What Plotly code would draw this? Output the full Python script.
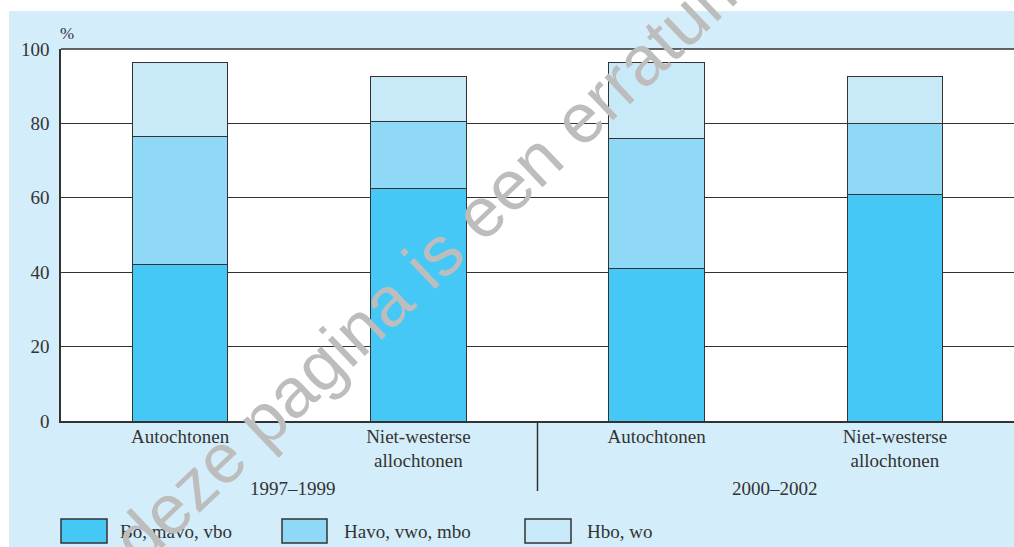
import plotly.graph_objects as go

categories = ["Autochtonen", "Niet-westerse<br>allochtonen", "Autochtonen", "Niet-westerse<br>allochtonen"]
periods = ["1997–1999", "2000–2002"]
series_names = ["Bo, mavo, vbo", "Havo, vwo, mbo", "Hbo, wo"]
low = [42.0, 62.5, 41.0, 61.0]
mid = [34.5, 18.0, 35.0, 19.0]
high = [20.0, 12.0, 20.5, 12.5]
colors = ["#45C8F5", "#8FD8F6", "#C7E9F8"]
y_ticks = [0, 20, 40, 60, 80, 100]
watermark = "deze pagina is een erratum"

W, H = 1014, 547
L, R, T, B = 61, 0, 49, 126
PW, PH = W - L - R, H - T - B

def px(x):
    return (x - L) / PW

def py(y):
    return (H - B - y) / PH

xpos = list(range(len(categories)))
fig = go.Figure()
for name, vals, col in zip(series_names, [low, mid, high], colors):
    fig.add_trace(go.Bar(
        x=xpos, y=vals, name=name, width=0.4,
        marker=dict(color=col, line=dict(color="#333333", width=1)),
        showlegend=False,
    ))

serif = "Liberation Serif"
FS = 19
fig.update_layout(
    width=W, height=H,
    margin=dict(l=L, r=R, t=T, b=B),
    barmode="stack",
    paper_bgcolor="#D3EEFA",
    plot_bgcolor="white",
    font=dict(family=serif, size=FS, color="#333333"),
    xaxis=dict(
        range=[-0.5, 3.5], tickvals=xpos, ticktext=categories,
        showgrid=False, zeroline=False, showline=True, linecolor="#333333", linewidth=1.5,
        ticks="", ticklabelstandoff=-3,
        tickfont=dict(family=serif, size=FS, color="#333333"),
    ),
    yaxis=dict(
        range=[0, 100], tickvals=y_ticks,
        showgrid=True, gridcolor="#333333", gridwidth=1,
        zeroline=False, showline=True, linecolor="#333333", linewidth=1.5,
        ticks="outside", ticklen=6, tickcolor="rgba(0,0,0,0)",
        tickfont=dict(family=serif, size=FS, color="#333333"),
    ),
)

shapes = [
    dict(type="rect", xref="paper", yref="paper", x0=px(0), x1=px(W), y0=py(11), y1=py(0),
         fillcolor="white", line=dict(width=0), layer="below"),
    dict(type="rect", xref="paper", yref="paper", x0=px(0), x1=px(9), y0=py(H), y1=py(0),
         fillcolor="white", line=dict(width=0), layer="below"),
    dict(type="line", xref="paper", yref="paper", x0=0, x1=1, y0=1, y1=1,
         line=dict(color="#333333", width=1.5)),
    dict(type="line", xref="x", yref="paper", x0=1.5, x1=1.5, y0=0, y1=py(491),
         line=dict(color="#333333", width=1.5)),
]

annotations = [
    dict(text="%", xref="paper", yref="paper", x=px(67), y=py(33), showarrow=False,
         font=dict(family=serif, size=17, color="#333333"), xanchor="center", yanchor="middle"),
    dict(text=periods[0], xref="paper", yref="paper", x=px(293), y=py(488), showarrow=False,
         font=dict(family=serif, size=FS, color="#333333"), xanchor="center", yanchor="middle"),
    dict(text=periods[1], xref="paper", yref="paper", x=px(775), y=py(488), showarrow=False,
         font=dict(family=serif, size=FS, color="#333333"), xanchor="center", yanchor="middle"),
]

legend_boxes = [(61, 107, 118), (282, 327, 342), (525, 571, 585)]
for (bx0, bx1, tx), name, col in zip(legend_boxes, series_names, colors):
    shapes.append(dict(type="rect", xref="paper", yref="paper",
                       x0=px(bx0), x1=px(bx1), y0=py(543), y1=py(519),
                       fillcolor=col, line=dict(color="#333333", width=1.5)))
    annotations.append(dict(text=name, xref="paper", yref="paper", x=px(tx), y=py(531),
                            showarrow=False, xanchor="left", yanchor="middle",
                            font=dict(family=serif, size=FS, color="#333333")))

annotations.append(dict(text=watermark, xref="paper", yref="paper", x=px(432), y=py(259),
                        showarrow=False, xanchor="center", yanchor="middle", textangle=-43.5,
                        font=dict(family="Liberation Sans", size=70, color="#BDBDBD")))

fig.update_layout(shapes=shapes, annotations=annotations)
fig.write_html("out.html", post_script="document.body.style.margin='0';",
               config={"displayModeBar": False})
